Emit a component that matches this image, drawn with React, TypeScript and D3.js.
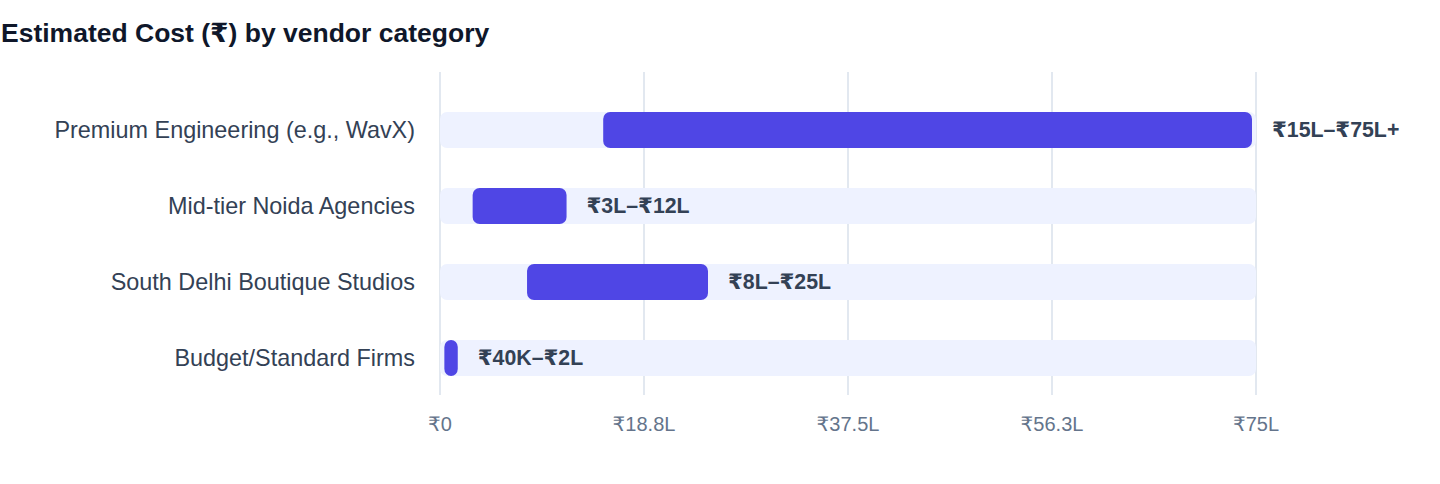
import React from "react";
import * as d3 from "d3";

const categories = [
  "Premium Engineering (e.g., WavX)",
  "Mid-tier Noida Agencies",
  "South Delhi Boutique Studios",
  "Budget/Standard Firms",
];
const lowValues = [15, 3, 8, 0.4]; // in lakh ₹
const highValues = [75, 12, 25, 2];
const rangeLabels = ["₹15L–₹75L+", "₹3L–₹12L", "₹8L–₹25L", "₹40K–₹2L"];
const tickValues = [0, 18.75, 37.5, 56.25, 75];
const tickLabels = ["₹0", "₹18.8L", "₹37.5L", "₹56.3L", "₹75L"];
const title = "Estimated Cost (₹) by vendor category";

const W = 1440;
const H = 484;
const FONT = "'Liberation Sans', Arial, Helvetica, 'DejaVu Sans', sans-serif";

export default function App() {
  const x = d3.scaleLinear().domain([0, 75]).range([440, 1256]);
  const y = d3
    .scaleBand<string>()
    .domain(categories)
    .range([92, 396])
    .paddingInner(40 / 76)
    .paddingOuter(20 / 76);
  const bw = y.bandwidth();
  const gridTop = 72;
  const gridBottom = 395;

  return (
    <svg
      width={W}
      height={H}
      style={{ position: "absolute", left: 0, top: 0, background: "#fff" }}
      fontFamily={FONT}
    >
      <text x={1} y={42} fontSize={26.5} fontWeight={700} fill="#0f172a">
        {title}
      </text>
      {tickValues.map((t, i) => (
        <g key={"t" + i}>
          <line
            x1={x(t)}
            x2={x(t)}
            y1={gridTop}
            y2={gridBottom}
            stroke="#e2e8f0"
            strokeWidth={2}
          />
          <text
            x={x(t)}
            y={431}
            textAnchor="middle"
            fontSize={20}
            fill="#64748b"
          >
            {tickLabels[i]}
          </text>
        </g>
      ))}
      {categories.map((c, i) => {
        const y0 = y(c) as number;
        const x0 = x(lowValues[i]);
        const x1 = x(highValues[i]) - 4;
        return (
          <g key={c}>
            <rect
              x={x(0)}
              y={y0}
              width={x(75) - x(0)}
              height={bw}
              rx={7}
              fill="#eef2ff"
            />
            <rect
              x={x0}
              y={y0}
              width={Math.max(0, x1 - x0)}
              height={bw}
              rx={7}
              fill="#4f46e5"
            />
            <text
              x={415}
              y={y0 + bw / 2}
              dy="0.35em"
              textAnchor="end"
              fontSize={23.4}
              fill="#334155"
            >
              {c}
            </text>
            <text
              x={x(highValues[i]) + 16}
              y={y0 + bw / 2}
              dy="0.35em"
              fontSize={21.3}
              fontWeight={700}
              fill="#334155"
            >
              {rangeLabels[i]}
            </text>
          </g>
        );
      })}
    </svg>
  );
}
